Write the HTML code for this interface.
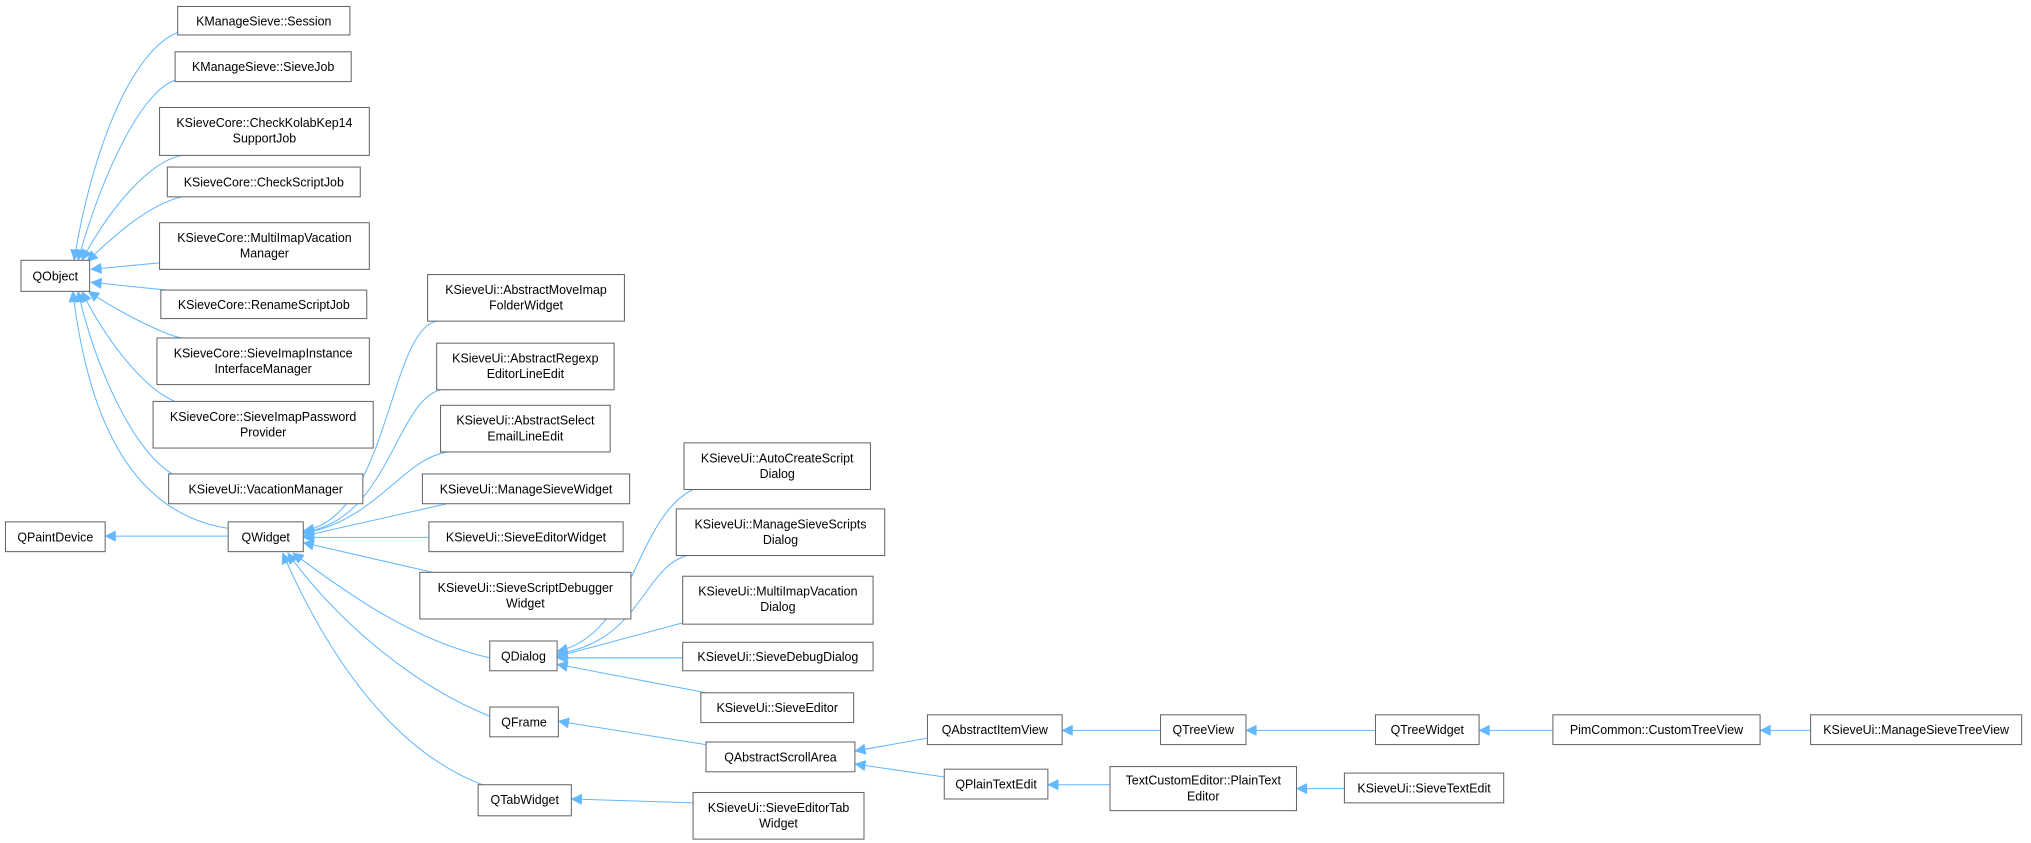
<!DOCTYPE html>
<html><head><meta charset="utf-8"><style>
html,body{margin:0;padding:0;background:#fff;}
svg{display:block;}
text{font-family:"Liberation Sans",sans-serif;font-size:9.6px;fill:#000;text-anchor:middle;}
rect{fill:#fff;stroke:#666;stroke-width:0.8;}
.e path{fill:none;stroke:#63b8ff;stroke-width:0.8;marker-start:url(#a);}
</style></head><body>
<svg width="2031" height="843" viewBox="0 0 1568 651" xmlns="http://www.w3.org/2000/svg">
<defs><marker id="a" viewBox="0 0 10 10" refX="10" refY="5" markerWidth="9" markerHeight="8" markerUnits="userSpaceOnUse" orient="auto-start-reverse"><path d="M0,0 L10,5 L0,10 z" fill="#63b8ff" stroke="#63b8ff" stroke-width="0.5"/></marker></defs>
<g class="e">
<path d="M57,201 C70,120 100,40 137,25"/>
<path d="M60,201 C80,130 110,70 135,62"/>
<path d="M63,201 C85,160 115,125 140,120"/>
<path d="M67,202 C90,180 115,158 140,152"/>
<path d="M70,208 L123,203"/>
<path d="M70,218 L128,224"/>
<path d="M68,225 C90,240 125,258 140,261"/>
<path d="M63,225 C80,260 110,300 135,310"/>
<path d="M60,225 C75,290 105,350 133,366"/>
<path d="M56,225 C65,300 90,395 176,408"/>
<path d="M81,414 L176,414"/>
<path d="M234,410 C300,400 300,255 337,248"/>
<path d="M234,411 C300,402 305,310 340,301"/>
<path d="M234,412 C290,402 310,355 345,349"/>
<path d="M234,414 L345,389"/>
<path d="M234,415 L331,415"/>
<path d="M234,419 L334,442"/>
<path d="M226,427 C270,460 320,495 378,508"/>
<path d="M222,427 C260,480 320,530 378,553"/>
<path d="M218,427 C250,500 300,580 375,607"/>
<path d="M430,503 C490,490 490,400 535,378"/>
<path d="M430,505 C495,495 495,440 530,429"/>
<path d="M430,507 L527,481"/>
<path d="M430,508 L527,508"/>
<path d="M430,513 L545,535"/>
<path d="M431,557 L545,575"/>
<path d="M441,617 L535,620"/>
<path d="M660,580 L716,570"/>
<path d="M660,590 L729,600"/>
<path d="M820,564 L896,564"/>
<path d="M962,564 L1062,564"/>
<path d="M1142,564 L1199,564"/>
<path d="M1359,564 L1398,564"/>
<path d="M809,606 L857,606"/>
<path d="M1001,609 L1038,609"/>
</g>
<g>
<rect x="137" y="5" width="133" height="22"/><text x="203.5" y="19.5">KManageSieve::Session</text>
<rect x="135" y="40" width="136" height="23"/><text x="203" y="55">KManageSieve::SieveJob</text>
<rect x="123" y="83" width="162" height="37"/><text x="204" y="98">KSieveCore::CheckKolabKep14</text><text x="204" y="110">SupportJob</text>
<rect x="129" y="129" width="149" height="23"/><text x="203.5" y="144">KSieveCore::CheckScriptJob</text>
<rect x="123" y="172" width="162" height="36"/><text x="204" y="187">KSieveCore::MultiImapVacation</text><text x="204" y="199">Manager</text>
<rect x="124" y="224" width="159" height="22"/><text x="203.5" y="238.5">KSieveCore::RenameScriptJob</text>
<rect x="121" y="261" width="164" height="36"/><text x="203" y="276">KSieveCore::SieveImapInstance</text><text x="203" y="288">InterfaceManager</text>
<rect x="118" y="310" width="170" height="36"/><text x="203" y="325">KSieveCore::SieveImapPassword</text><text x="203" y="337">Provider</text>
<rect x="130" y="366" width="150" height="23"/><text x="205" y="381">KSieveUi::VacationManager</text>
<rect x="16" y="201" width="53" height="24"/><text x="42.5" y="216.5">QObject</text>
<rect x="4" y="403" width="77" height="23"/><text x="42.5" y="418">QPaintDevice</text>
<rect x="176" y="403" width="58" height="23"/><text x="205" y="418">QWidget</text>
<rect x="330" y="212" width="152" height="36"/><text x="406" y="227">KSieveUi::AbstractMoveImap</text><text x="406" y="239">FolderWidget</text>
<rect x="337" y="265" width="137" height="36"/><text x="405.5" y="280">KSieveUi::AbstractRegexp</text><text x="405.5" y="292">EditorLineEdit</text>
<rect x="340" y="313" width="131" height="36"/><text x="405.5" y="328">KSieveUi::AbstractSelect</text><text x="405.5" y="340">EmailLineEdit</text>
<rect x="326" y="366" width="160" height="23"/><text x="406" y="381">KSieveUi::ManageSieveWidget</text>
<rect x="331" y="403" width="150" height="23"/><text x="406" y="418">KSieveUi::SieveEditorWidget</text>
<rect x="324" y="442" width="163" height="36"/><text x="405.5" y="457">KSieveUi::SieveScriptDebugger</text><text x="405.5" y="469">Widget</text>
<rect x="378" y="495" width="52" height="23"/><text x="404" y="510">QDialog</text>
<rect x="378" y="546" width="53" height="23"/><text x="404.5" y="561">QFrame</text>
<rect x="369" y="606" width="72" height="24"/><text x="405" y="621">QTabWidget</text>
<rect x="528" y="342" width="144" height="36"/><text x="600" y="357">KSieveUi::AutoCreateScript</text><text x="600" y="369">Dialog</text>
<rect x="522" y="393" width="161" height="36"/><text x="602.5" y="408">KSieveUi::ManageSieveScripts</text><text x="602.5" y="420">Dialog</text>
<rect x="527" y="445" width="147" height="37"/><text x="600.5" y="460">KSieveUi::MultiImapVacation</text><text x="600.5" y="472">Dialog</text>
<rect x="527" y="496" width="147" height="22"/><text x="600.5" y="510.5">KSieveUi::SieveDebugDialog</text>
<rect x="541" y="535" width="118" height="23"/><text x="600" y="550">KSieveUi::SieveEditor</text>
<rect x="545" y="573" width="115" height="23"/><text x="602.5" y="588">QAbstractScrollArea</text>
<rect x="535" y="612" width="132" height="36"/><text x="601" y="627">KSieveUi::SieveEditorTab</text><text x="601" y="639">Widget</text>
<rect x="716" y="552" width="104" height="23"/><text x="768" y="567">QAbstractItemView</text>
<rect x="729" y="594" width="80" height="23"/><text x="769" y="609">QPlainTextEdit</text>
<rect x="896" y="552" width="66" height="23"/><text x="929" y="567">QTreeView</text>
<rect x="857" y="592" width="144" height="34"/><text x="929" y="606">TextCustomEditor::PlainText</text><text x="929" y="618">Editor</text>
<rect x="1062" y="552" width="80" height="23"/><text x="1102" y="567">QTreeWidget</text>
<rect x="1199" y="552" width="160" height="23"/><text x="1279" y="567">PimCommon::CustomTreeView</text>
<rect x="1038" y="597" width="123" height="23"/><text x="1099.5" y="612">KSieveUi::SieveTextEdit</text>
<rect x="1398" y="552" width="163" height="23"/><text x="1479.5" y="567">KSieveUi::ManageSieveTreeView</text>
</g>
</svg>
</body></html>
